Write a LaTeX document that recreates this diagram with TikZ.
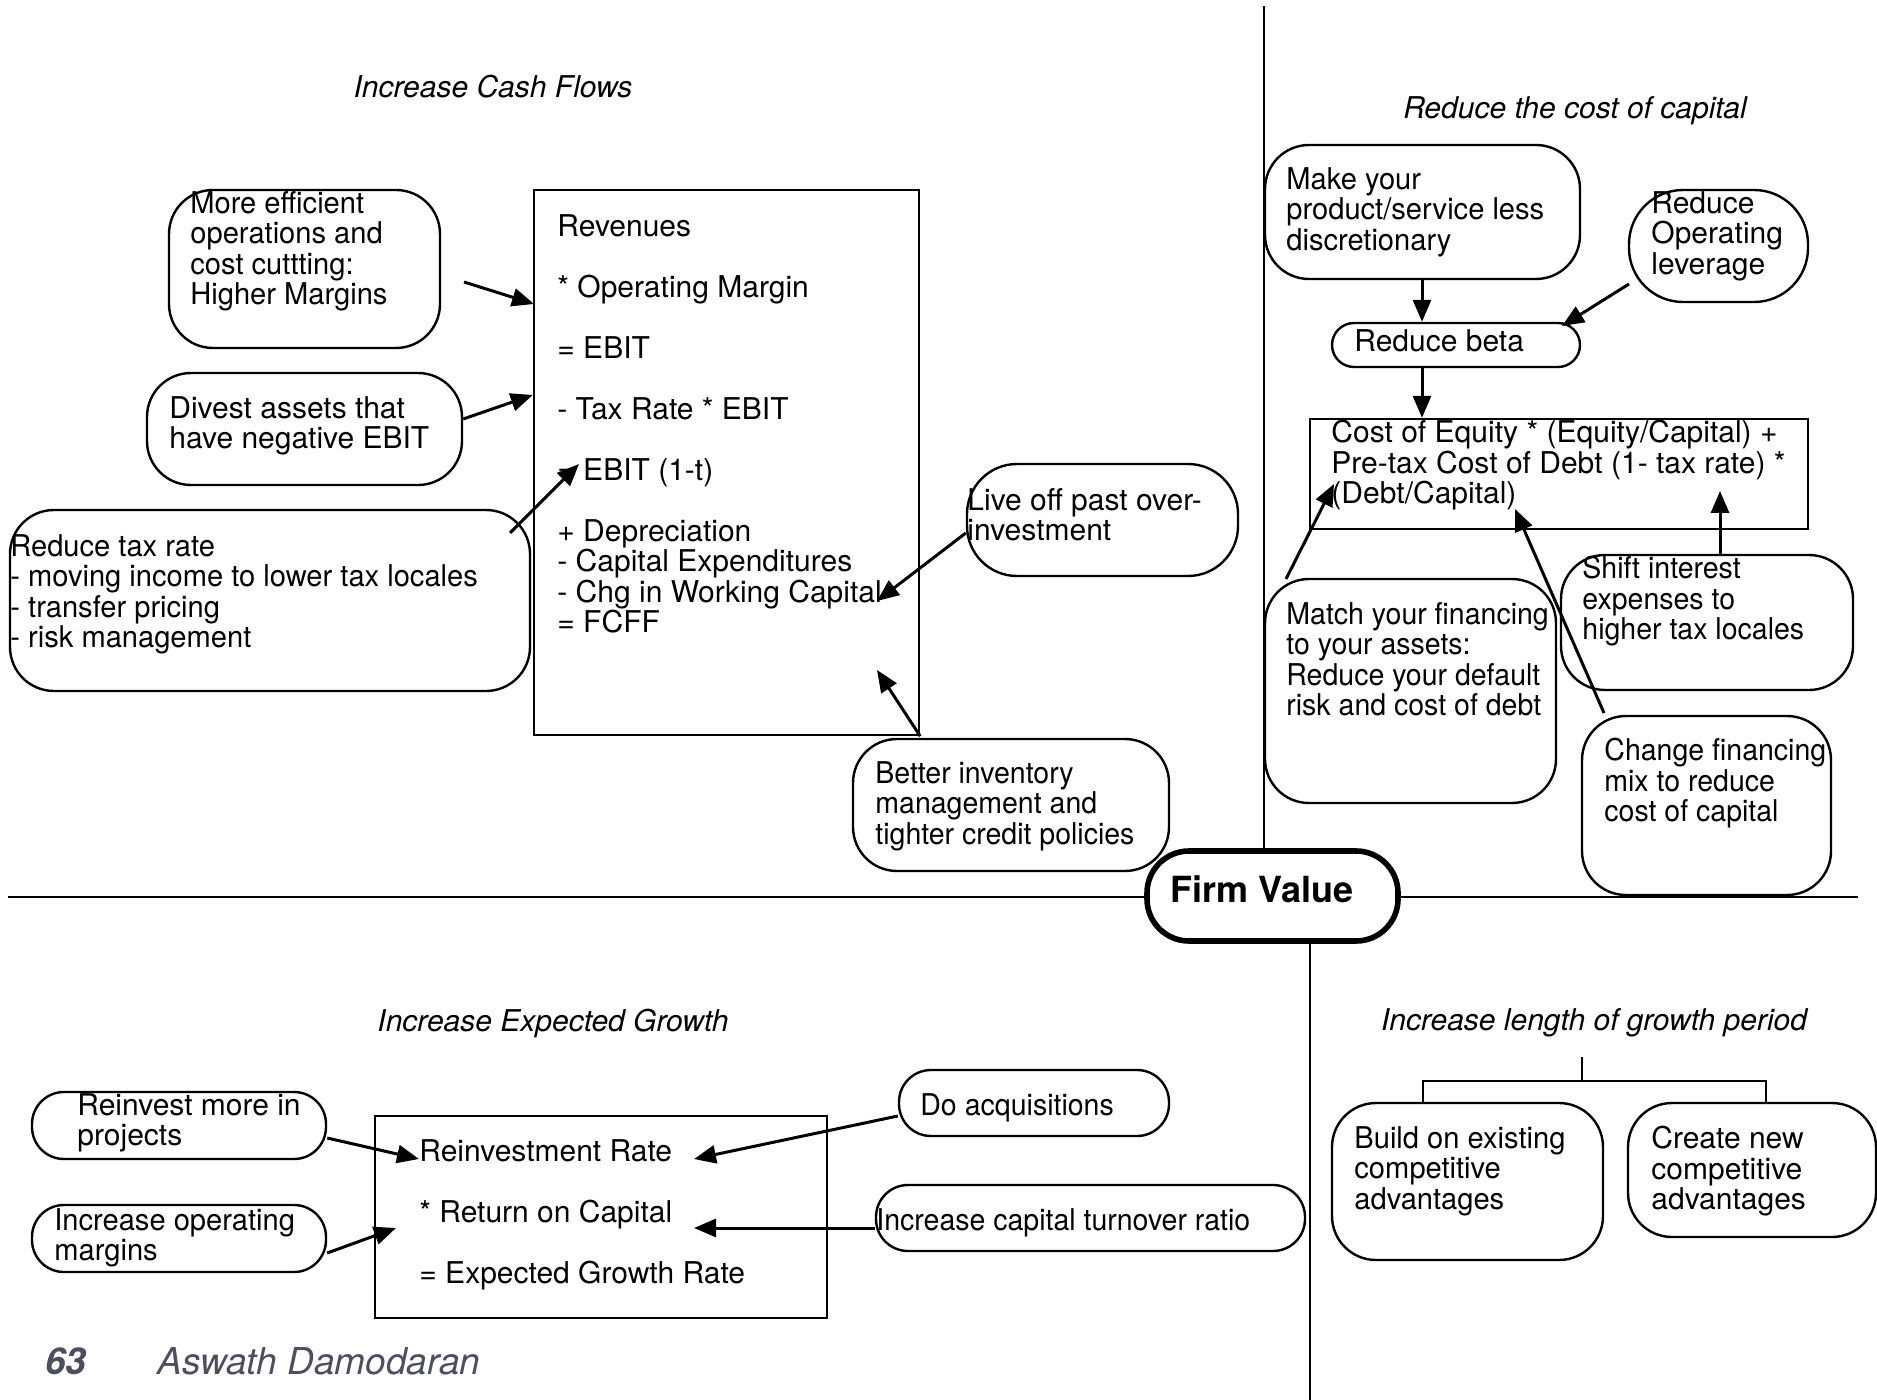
\documentclass[tikz,border=0pt]{standalone}
\usepackage{fontspec}
\setmainfont{TeX Gyre Heros}
\newfontfamily\fsA{TeX Gyre Heros}[FakeStretch=0.97]
\newfontfamily\fsB{TeX Gyre Heros}[FakeStretch=0.95]
\usetikzlibrary{arrows.meta,calc}
\definecolor{footgray}{HTML}{4E4E60}
\begin{document}
\begin{tikzpicture}[x=0.5pt,y=-0.5pt,
  every node/.style={inner sep=0pt},
  body/.style={font=\fontsize{15}{15.25}\selectfont},
  txt/.style={body, anchor=north west, align=left},
  txtA/.style={txt, font=\fsA\fontsize{15}{15.25}\selectfont},
  txtB/.style={txt, font=\fsB\fontsize{15}{15.25}\selectfont},
  ttl/.style={font=\fontsize{15}{15.25}\selectfont\itshape, anchor=center},
  rb/.style={draw, line width=1.2pt, rounded corners=22pt},
  pill/.style={draw, line width=1.2pt, rounded corners=16pt},
  sq/.style={draw, line width=1.2pt},
  ln/.style={line width=1.2pt},
  arr/.style={line width=1.5pt, -{Triangle[length=11pt,width=9pt]}},
]
\fill[white] (0,0) rectangle (1877,1400);
\useasboundingbox (0,0) rectangle (1877,1400);

% ---------- quadrant lines and centre ----------
\node[draw, line width=2.8pt, rounded corners=21pt, minimum width=125.5pt, minimum height=45pt] (firm) at (1272.5,896) {};
\node[font=\fontsize{18}{20}\selectfont\bfseries] (firmtxt) at (1262,889) {Firm Value};
\coordinate (vtop) at (1264,6);
\coordinate (hleft) at (8,897);
\coordinate (hright) at (1858,897);
\coordinate (vbot) at (1310,1400);
\draw[ln] (firm.north -| vtop) -- (vtop);
\draw[ln] (firm.west |- hleft) -- (hleft);
\draw[ln] (firm.east |- hright) -- (hright);
\draw[ln] (firm.south -| vbot) -- (vbot);

% ---------- titles ----------
\node[ttl] (t1) at (493,87) {Increase Cash Flows};
\node[ttl] (t2) at (1575,111) {Reduce the cost of capital};
\node[ttl] (t3) at (553,1023) {Increase Expected Growth};
\node[ttl] (t4) at (1594,1023) {Increase length of growth period};

% ---------- top left: cash flows ----------
\node[sq, minimum width=192.5pt, minimum height=272.5pt] (cf) at (726.5,462.5) {};
\node[txt] (cftxt) at (557,214) {Revenues\\[15.25pt]* Operating Margin\\[15.25pt]= EBIT\\[15.25pt]- Tax Rate * EBIT\\[15.25pt]= EBIT (1-t)\\[15.25pt]+ Depreciation\\- Capital Expenditures\\- Chg in Working Capital\\= FCFF};

\node[rb, minimum width=135.5pt, minimum height=79pt] (eff) at (304.5,269) {};
\node[txtA] (efftxt) at (190,191) {More efficient\\operations and\\cost cuttting:\\Higher Margins};

\node[rb, minimum width=157.5pt, minimum height=56pt] (div) at (304.5,429) {};
\node[txt] (divtxt) at (169,396) {Divest assets that\\have negative EBIT};

\node[rb, minimum width=260pt, minimum height=90.5pt] (tax) at (270,600.5) {};
\node[txtA] (taxtxt) at (10,534) {Reduce tax rate\\- moving income to lower tax locales\\- transfer pricing\\- risk management};

\node[rb, rounded corners=25pt, minimum width=135.5pt, minimum height=56pt] (live) at (1102.5,520) {};
\node[txt] (livetxt) at (967,488) {Live off past over-\\investment};

\node[rb, minimum width=158pt, minimum height=66pt] (inv) at (1011,805) {};
\node[txtB] (invtxt) at (875,761) {Better inventory\\management and\\tighter credit policies};

\coordinate (a1s) at (464,282);  \coordinate (a1e) at (534,304);
\coordinate (a3s) at (510,533);  \coordinate (a3e) at (579,464);
\coordinate (a4e) at (877,601);
\coordinate (a5e) at (877,670);
\draw[arr] (a1s) -- (a1e);
\draw[arr] (div.east |- 0,419) -- (cf.west |- 0,395);
\draw[arr] (a3s) -- (a3e);
\draw[arr] (live.west |- 0,533) -- (a4e);
\draw[arr] (cf.south east) -- (a5e);

% ---------- top right: cost of capital ----------
\node[rb, minimum width=157.5pt, minimum height=67pt] (make) at (1422.5,212) {};
\node[txtA] (maketxt) at (1286,167) {Make your\\product/service less\\discretionary};

\node[rb, rounded corners=27pt, minimum width=89.5pt, minimum height=56pt] (oplev) at (1718.5,246) {};
\node[txt] (oplevtxt) at (1651,191) {Reduce\\Operating\\leverage};

\node[pill, rounded corners=11pt, minimum width=124pt, minimum height=22pt] (beta) at (1456,345) {};
\node[txt] (betatxt) at (1354,329) {Reduce beta};

\node[sq, minimum width=249pt, minimum height=55pt] (wacc) at (1559,474) {};
\node[txt] (wacctxt) at (1331,420) {Cost of Equity * (Equity/Capital) +\\Pre-tax Cost of Debt (1- tax rate) *\\(Debt/Capital)};

\node[rb, minimum width=145.5pt, minimum height=112pt] (match) at (1410.5,691) {};
\node[txtB] (matchtxt) at (1286,602) {Match your financing\\to your assets:\\Reduce your default\\risk and cost of debt};

\node[rb, minimum width=146pt, minimum height=67.5pt] (shift) at (1707,622.5) {};
\node[txtB] (shifttxt) at (1582,556) {Shift interest\\expenses to\\higher tax locales};

\node[rb, minimum width=124.5pt, minimum height=89.5pt] (chg) at (1706.5,805.5) {};
\node[txtB] (chgtxt) at (1604,738) {Change financing\\mix to reduce\\cost of capital};

\coordinate (a7s) at (1629,284);  \coordinate (a7e) at (1562,326);
\coordinate (a9s) at (1286,579);  \coordinate (a9e) at (1334,484);
\coordinate (a10e) at (1720,491);
\coordinate (a11s) at (1604,713); \coordinate (a11e) at (1515,509);
\draw[arr] (make.south -| 1422,0) -- (beta.north -| 1422,0);
\draw[arr] (a7s) -- (a7e);
\draw[arr] (beta.south -| 1422,0) -- (wacc.north -| 1422,0);
\draw[arr] (a9s) -- (a9e);
\draw[arr] (shift.north -| a10e) -- (a10e);
\draw[arr] (a11s) -- (a11e);

% ---------- bottom left: expected growth ----------
\node[sq, minimum width=226pt, minimum height=101pt] (gbox) at (601,1217) {};
\node[txt] (gtxt) at (419,1139) {Reinvestment Rate\\[15.25pt]* Return on Capital\\[15.25pt]= Expected Growth Rate};

\node[pill, minimum width=147pt, minimum height=33.5pt] (reinv) at (179,1125.5) {};
\node[txt] (reinvtxt) at (77,1093) {Reinvest more in\\projects};

\node[pill, minimum width=147pt, minimum height=33.5pt] (incop) at (179,1238.5) {};
\node[txtA] (incoptxt) at (54,1208) {Increase operating\\margins};

\node[pill, minimum width=135pt, minimum height=33pt] (acq) at (1034,1103) {};
\node[txtB] (acqtxt) at (920,1093) {Do acquisitions};

\node[pill, minimum width=214.5pt, minimum height=33pt] (turn) at (1090.5,1218) {};
\node[txtB] (turntxt) at (876,1208) {Increase capital turnover ratio};

\coordinate (b1e) at (419,1159);
\coordinate (b2e) at (396,1228);
\coordinate (b3e) at (694,1159);
\coordinate (b4e) at (694,1228);
\draw[arr] (reinv.east |- 0,1138) -- (b1e);
\draw[arr] (incop.east |- 0,1253) -- (b2e);
\draw[arr] (acq.west |- 0,1116) -- (b3e);
\draw[arr] (turn.west |- b4e) -- (b4e);

% ---------- bottom right: growth period ----------
\node[rb, minimum width=135.5pt, minimum height=78.5pt] (build) at (1467.5,1181.5) {};
\node[txtA] (buildtxt) at (1354,1126) {Build on existing\\competitive\\advantages};

\node[rb, minimum width=124pt, minimum height=67pt] (create) at (1752,1170) {};
\node[txt] (createtxt) at (1651,1126) {Create new\\competitive\\advantages};

\coordinate (stem) at (1582,1057);
\coordinate (fork) at (1582,1081);
\draw[ln] (stem) -- (fork);
\draw[ln] (build.north -| 1423,0) |- (fork) -| (create.north -| 1766,0);

% ---------- footer ----------
\node[anchor=base west, font=\fontsize{18.5}{20}\selectfont\bfseries\itshape, text=footgray] (pg) at (45,1374) {63};
\node[anchor=base west, font=\fontsize{18.5}{20}\selectfont\itshape, text=footgray] (auth) at (157,1374) {Aswath Damodaran};
\end{tikzpicture}
\end{document}
